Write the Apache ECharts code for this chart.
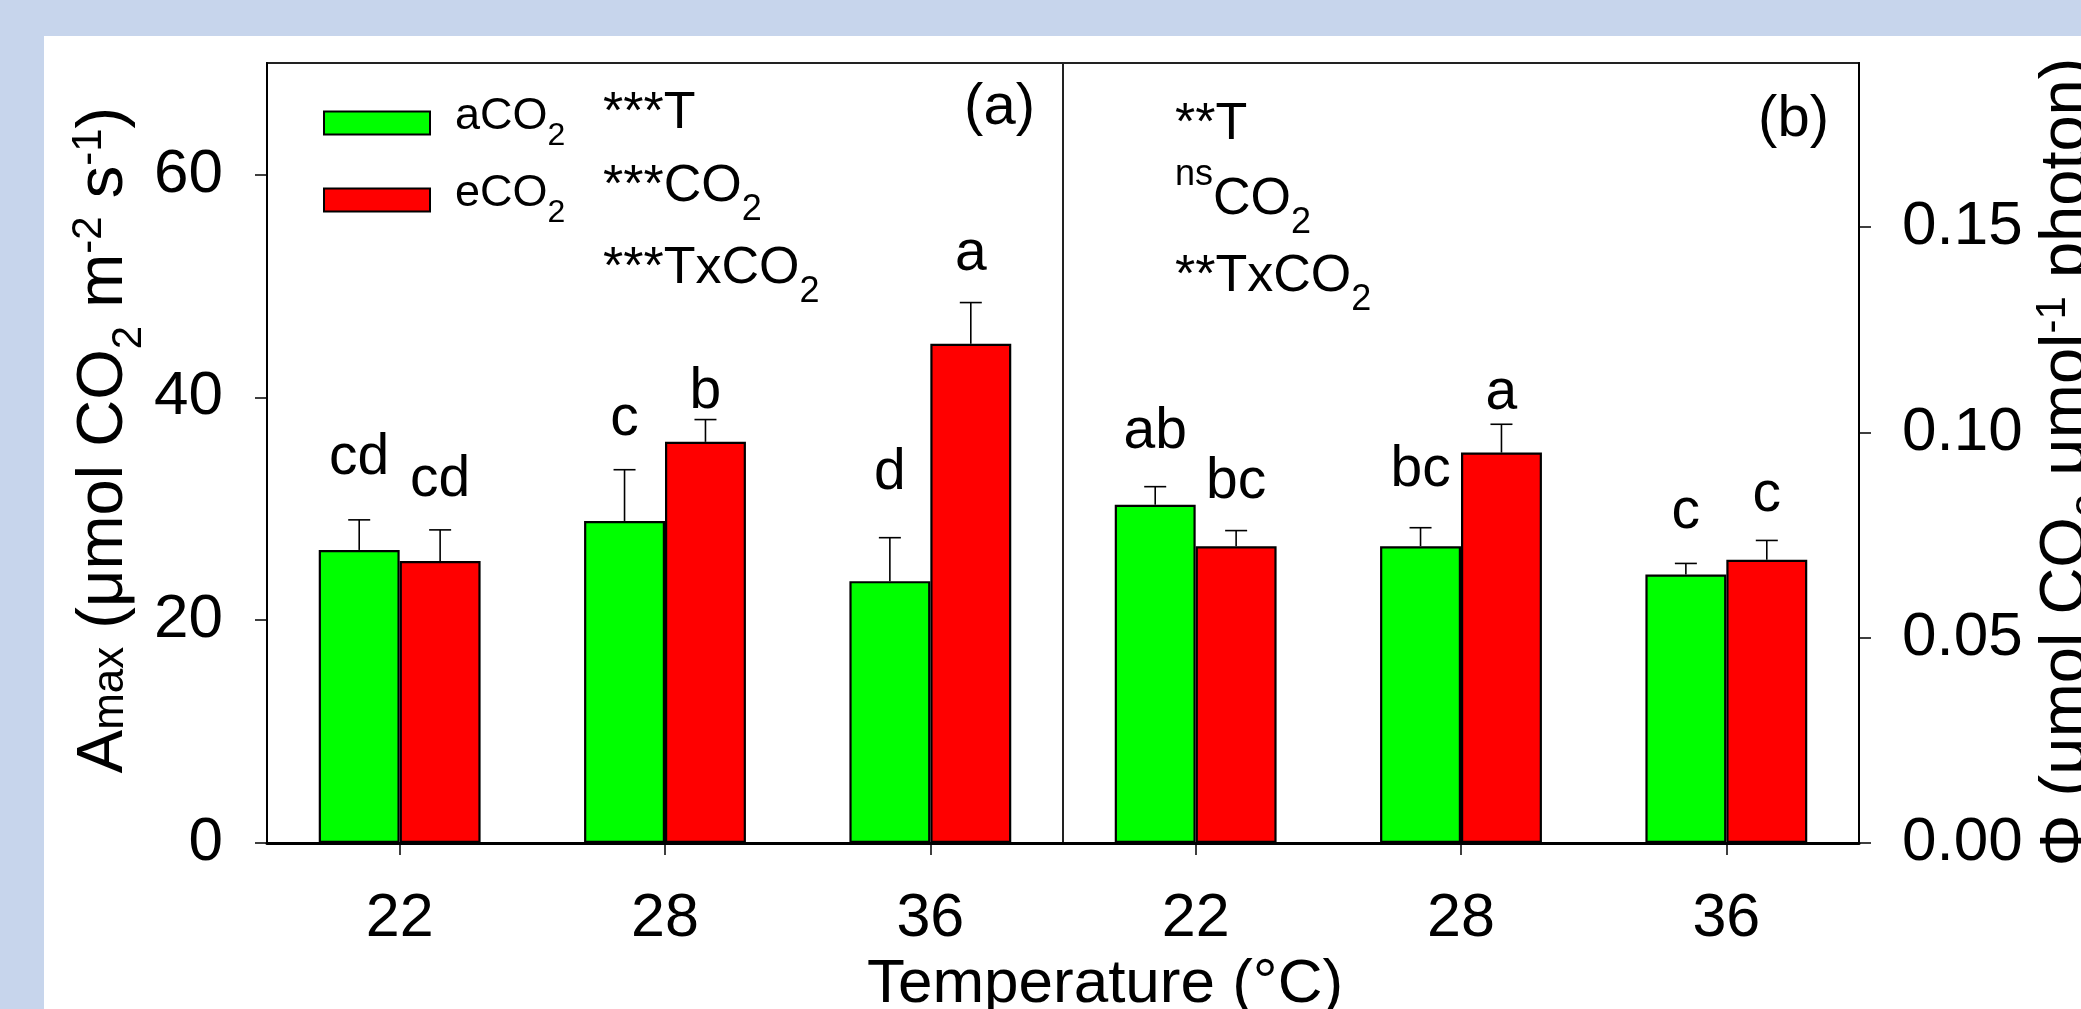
<!DOCTYPE html>
<html><head><meta charset="utf-8">
<script src="https://cdn.jsdelivr.net/npm/echarts@6/dist/echarts.min.js"></script>
<style>
html,body{margin:0;padding:0;width:2081px;height:1009px;overflow:hidden;background:#c7d5ec;}
#c{position:absolute;left:44px;top:36px;width:2037px;height:973px;background:#fff;}
</style></head>
<body><div id="c"></div>
<script>
// ---------- data ----------
const categories = ['22', '28', '36'];
const seriesNames = ['aCO2', 'eCO2'];
// Panel (a): Amax
const amaxAmbient = [26.3, 28.9, 23.5];
const amaxAmbientSE = [2.7, 4.6, 3.9];
const amaxElevated = [25.3, 36.0, 44.8];
const amaxElevatedSE = [2.8, 2.0, 3.7];
const amaxLettersAmbient = ['cd', 'c', 'd'];
const amaxLettersElevated = ['cd', 'b', 'a'];
const amaxLetterYAmbient = [32.8, 36.3, 31.4];
const amaxLetterYElevated = [30.8, 38.7, 51.1];
// Panel (b): quantum yield
const phiAmbient = [0.0824, 0.0723, 0.0654];
const phiAmbientSE = [0.0044, 0.0045, 0.0027];
const phiElevated = [0.0723, 0.0951, 0.0690];
const phiElevatedSE = [0.0038, 0.0069, 0.0047];
const phiLettersAmbient = ['ab', 'bc', 'c'];
const phiLettersElevated = ['bc', 'a', 'c'];
const phiLetterYAmbient = [0.0954, 0.0861, 0.0759];
const phiLetterYElevated = [0.0832, 0.1049, 0.0800];
// tick labels
const amaxTicks = [0, 20, 40, 60];
const phiTicks = [0, 0.05, 0.10, 0.15];

// ---------- styles ----------
const F = '"Liberation Sans", Arial, Helvetica, sans-serif';
const GREEN = '#00ff00', RED = '#ff0000';
const BAR_FRAC = 0.305;

const chart = echarts.init(document.getElementById('c'));

function barSeries(name, xi, vals, color) {
  return {
    name, type: 'bar', xAxisIndex: xi, yAxisIndex: xi, data: vals,
    barWidth: (BAR_FRAC * 100) + '%', barGap: '0%', z: 2,
    itemStyle: { color, borderColor: '#000', borderWidth: 2.2 },
    emphasis: { disabled: true }
  };
}
function errSeries(xi, vals, se, side) {
  return {
    type: 'custom', xAxisIndex: xi, yAxisIndex: xi, z: 5, silent: true,
    data: vals.map((v, i) => [i, v, se[i]]),
    renderItem(params, api) {
      const i = api.value(0), v = api.value(1), e = api.value(2);
      const band = api.size([1, 0])[0];
      const p0 = api.coord([i, v]), p1 = api.coord([i, v + e]);
      const x = p0[0] + side * band * BAR_FRAC / 2;
      return { type: 'group', children: [
        { type: 'line', shape: { x1: x, y1: p0[1], x2: x, y2: p1[1] }, style: { stroke: '#000', lineWidth: 1.6 } },
        { type: 'line', shape: { x1: x - 11, y1: p1[1], x2: x + 11, y2: p1[1] }, style: { stroke: '#000', lineWidth: 1.6 } }
      ] };
    }
  };
}
function letterSeries(xi, ys, labels, side) {
  return {
    type: 'custom', xAxisIndex: xi, yAxisIndex: xi, z: 6, silent: true,
    data: ys.map((y, i) => [i, y]),
    renderItem(params, api) {
      const i = api.value(0), y = api.value(1);
      const band = api.size([1, 0])[0];
      const p = api.coord([i, y]);
      return { type: 'text', x: p[0] + side * band * BAR_FRAC / 2, y: p[1] + 9,
        style: { text: labels[params.dataIndex], fontSize: 57, fontFamily: F, fill: '#000', align: 'center', verticalAlign: 'bottom' } };
    }
  };
}
// rich-text helpers (main, subscript, superscript, small same-baseline)
function richSet(main, small, pbMain, pbSup, pbSmall, xSize, padStart, padEnd) {
  return {
    a: { fontSize: main, fontFamily: F, color: '#000', verticalAlign: 'bottom', padding: [0, 0, pbMain, padStart || 0] },
    m: { fontSize: main, fontFamily: F, color: '#000', verticalAlign: 'bottom', padding: [0, 0, pbMain, 0] },
    e: { fontSize: main, fontFamily: F, color: '#000', verticalAlign: 'bottom', padding: [0, padEnd || 0, pbMain, 0] },
    s: { fontSize: small, fontFamily: F, color: '#000', verticalAlign: 'bottom', padding: [0, 0, 0, 0] },
    p: { fontSize: small, fontFamily: F, color: '#000', verticalAlign: 'bottom', padding: [0, 0, pbSup, 0] },
    x: { fontSize: xSize || small, fontFamily: F, color: '#000', verticalAlign: 'bottom', padding: [0, 0, pbSmall, 0] }
  };
}
const annRich = richSet(52, 36, 15, 48, 18);
function ann(text, x, y) {
  return { type: 'text', x, y, z: 10, style: { text, rich: annRich, fontSize: 52, fontFamily: F, fill: '#000', align: 'left', verticalAlign: 'bottom' } };
}

const xAxisBase = (gi) => ({
  type: 'category', gridIndex: gi, data: categories, boundaryGap: true,
  axisLine: { show: true, lineStyle: { color: '#000', width: 3 } },
  axisTick: { show: true, alignWithLabel: true, length: 12, lineStyle: { color: '#000', width: 1.5 } },
  axisLabel: { fontSize: 61, fontFamily: F, color: '#000', margin: 46 },
  splitLine: { show: false }
});

const gridBase = { top: 27, width: 796, height: 780, show: true, borderColor: '#222', borderWidth: 2,
  backgroundColor: 'transparent', containLabel: false, outerBoundsMode: 'none' };

const option = {
  animation: false,
  grid: [
    Object.assign({ left: 223 }, gridBase),
    Object.assign({ left: 1019 }, gridBase)
  ],
  legend: {
    data: seriesNames, orient: 'vertical', left: 274, top: 53,
    itemWidth: 106, itemHeight: 23, itemGap: 19, icon: 'rect', selectedMode: false,
    itemStyle: { borderColor: '#000', borderWidth: 2 },
    formatter: n => '{m|' + n.slice(0, 3) + '}{s|' + n.slice(3) + '}',
    textStyle: { rich: {
      m: { fontSize: 45, fontFamily: F, color: '#000', verticalAlign: 'bottom', padding: [0, 0, 13, 20] },
      s: { fontSize: 32, fontFamily: F, color: '#000', verticalAlign: 'bottom' }
    } }
  },
  xAxis: [xAxisBase(0), xAxisBase(1)],
  yAxis: [
    {
      type: 'value', gridIndex: 0, position: 'left', min: 0, max: 70, interval: 20,
      axisLine: { show: true, lineStyle: { color: '#000', width: 2 } },
      axisTick: { show: true, length: 12, customValues: amaxTicks, lineStyle: { color: '#000', width: 1.5 } },
      axisLabel: { fontSize: 62, fontFamily: F, color: '#000', margin: 44, customValues: amaxTicks },
      splitLine: { show: false },
      name: '{a|A}{x|max}{m| (μmol CO}{s|2}{m| m}{p|-2}{m| s}{p|-1}{e|)}',
      nameLocation: 'middle', nameRotate: 90, nameGap: 101,
      nameTextStyle: { rich: richSet(65, 42, 14, 40, 17, 44, 26, 0), fontSize: 65, fontFamily: F }
    },
    {
      type: 'value', gridIndex: 1, position: 'right', min: 0, max: 0.19, interval: 0.05,
      axisLine: { show: true, lineStyle: { color: '#000', width: 2 } },
      axisTick: { show: true, length: 12, customValues: phiTicks, lineStyle: { color: '#000', width: 1.5 } },
      axisLabel: { fontSize: 62, fontFamily: F, color: '#000', margin: 43, customValues: phiTicks,
        formatter: v => v.toFixed(2) },
      splitLine: { show: false },
      name: '{a|Φ (μmol CO}{s|2}{m| μmol}{p|-1}{e| photon)}',
      nameLocation: 'middle', nameRotate: 90, nameGap: 173,
      nameTextStyle: { rich: richSet(65, 42, 14, 40, 17, 42, 0, 18), fontSize: 65, fontFamily: F }
    }
  ],
  graphic: [
    ann('{m|***T}', 559, 119),
    ann('{m|***CO}{s|2}', 559, 192),
    ann('{m|***TxCO}{s|2}', 559, 274),
    ann('{m|**T}', 1131, 130),
    ann('{p|ns}{m|CO}{s|2}', 1131, 205),
    ann('{m|**TxCO}{s|2}', 1131, 282),
    { type: 'text', x: 991, y: 101, z: 10, style: { text: '(a)', fontSize: 58, fontFamily: F, fill: '#000', align: 'right', verticalAlign: 'bottom' } },
    { type: 'text', x: 1785, y: 113, z: 10, style: { text: '(b)', fontSize: 58, fontFamily: F, fill: '#000', align: 'right', verticalAlign: 'bottom' } },
    { type: 'text', x: 1061, y: 980, z: 10, style: { text: 'Temperature (°C)', fontSize: 62, fontFamily: F, fill: '#000', align: 'center', verticalAlign: 'bottom' } }
  ],
  series: [
    barSeries(seriesNames[0], 0, amaxAmbient, GREEN),
    barSeries(seriesNames[1], 0, amaxElevated, RED),
    barSeries(seriesNames[0], 1, phiAmbient, GREEN),
    barSeries(seriesNames[1], 1, phiElevated, RED),
    errSeries(0, amaxAmbient, amaxAmbientSE, -1),
    errSeries(0, amaxElevated, amaxElevatedSE, 1),
    errSeries(1, phiAmbient, phiAmbientSE, -1),
    errSeries(1, phiElevated, phiElevatedSE, 1),
    letterSeries(0, amaxLetterYAmbient, amaxLettersAmbient, -1),
    letterSeries(0, amaxLetterYElevated, amaxLettersElevated, 1),
    letterSeries(1, phiLetterYAmbient, phiLettersAmbient, -1),
    letterSeries(1, phiLetterYElevated, phiLettersElevated, 1)
  ]
};
chart.setOption(option);
</script></body></html>
